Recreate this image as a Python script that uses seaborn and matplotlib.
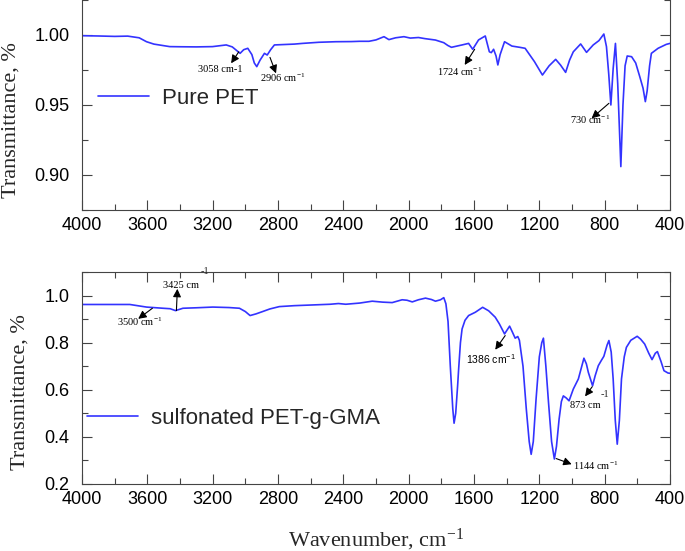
import matplotlib
matplotlib.use('Agg')
import matplotlib.pyplot as plt
import seaborn as sns
from matplotlib.ticker import MultipleLocator, FormatStrFormatter

# Pure PET spectrum (wavenumber, transmittance)
pet_wn = [4000, 3900, 3800, 3720, 3650, 3605, 3560, 3463, 3400, 3300, 3201, 3117,
          3080, 3032, 3010, 2985, 2960, 2945, 2930, 2910, 2883, 2866, 2845, 2822,
          2700, 2650, 2550, 2446, 2350, 2300, 2243, 2200, 2151, 2121, 2080, 2029,
          1990, 1940, 1900, 1836, 1785, 1760, 1738, 1700, 1673, 1633, 1608, 1572,
          1531, 1506, 1494, 1480, 1465, 1454, 1440, 1413, 1368, 1320, 1287, 1230,
          1181, 1140, 1100, 1070, 1039, 1015, 992, 947, 911, 870, 835, 805,
          789, 775, 762, 748, 734, 720, 701, 688, 675, 662, 635, 610,
          585, 565, 551, 540, 525, 514, 473, 423, 400]
pet_t = [0.9995, 0.9993, 0.9990, 0.9992, 0.9980, 0.9952, 0.9935, 0.9917, 0.9916, 0.9915, 0.9917, 0.9929,
         0.9915, 0.9869, 0.9895, 0.9905, 0.9860, 0.9800, 0.9774, 0.9820, 0.9869, 0.9857, 0.9895, 0.9929,
         0.9935, 0.9940, 0.9948, 0.9952, 0.9953, 0.9955, 0.9955, 0.9965, 0.9988, 0.9967, 0.9980, 0.9988,
         0.9978, 0.9982, 0.9974, 0.9964, 0.9945, 0.9925, 0.9912, 0.9922, 0.9929, 0.9940, 0.9898, 0.9965,
         0.9993, 0.9880, 0.9874, 0.9898, 0.9850, 0.9786, 0.9860, 0.9952, 0.9921, 0.9912, 0.9905, 0.9810,
         0.9714, 0.9780, 0.9826, 0.9785, 0.9733, 0.9820, 0.9880, 0.9936, 0.9876, 0.9929, 0.9960, 1.0007,
         0.9917, 0.9720, 0.9500, 0.9760, 0.9940, 0.9650, 0.9060, 0.9500, 0.9780, 0.9850, 0.9845, 0.9800,
         0.9702, 0.9620, 0.9524, 0.9600, 0.9780, 0.9869, 0.9905, 0.9933, 0.9940]

# sulfonated PET-g-GMA spectrum
spet_wn = [4000, 3850, 3707, 3605, 3504, 3460, 3428, 3400, 3382, 3300, 3199, 3100,
           3036, 3000, 2971, 2935, 2894, 2850, 2792, 2700, 2589, 2480, 2430, 2385,
           2300, 2223, 2160, 2101, 2040, 2010, 1978, 1940, 1897, 1860, 1836, 1805,
           1785, 1772, 1759, 1745, 1730, 1722, 1712, 1700, 1694, 1683, 1673, 1655,
           1633, 1592, 1547, 1510, 1470, 1445, 1413, 1382, 1365, 1348, 1332, 1322,
           1300, 1280, 1262, 1250, 1237, 1220, 1200, 1185, 1175, 1160, 1144, 1125,
           1108, 1095, 1079, 1065, 1053, 1035, 1018, 992, 961, 927, 912, 900,
           874, 858, 839, 820, 805, 785, 774, 760, 748, 735, 723, 710,
           697, 680, 667, 640, 601, 580, 555, 530, 510, 490, 477, 455,
           437, 412, 400]
spet_t = [0.962, 0.962, 0.962, 0.951, 0.946, 0.944, 0.936, 0.942, 0.946, 0.948, 0.951, 0.949,
          0.946, 0.932, 0.915, 0.922, 0.932, 0.943, 0.953, 0.957, 0.960, 0.963, 0.966, 0.963,
          0.968, 0.976, 0.972, 0.970, 0.982, 0.980, 0.973, 0.982, 0.989, 0.983, 0.976, 0.982,
          0.991, 0.965, 0.890, 0.700, 0.520, 0.458, 0.500, 0.620, 0.688, 0.800, 0.858, 0.895,
          0.915, 0.929, 0.950, 0.935, 0.908, 0.880, 0.837, 0.870, 0.845, 0.819, 0.826, 0.810,
          0.700, 0.520, 0.380, 0.326, 0.380, 0.560, 0.740, 0.800, 0.819, 0.700, 0.548, 0.380,
          0.306, 0.360, 0.475, 0.550, 0.574, 0.565, 0.553, 0.603, 0.646, 0.734, 0.710, 0.674,
          0.617, 0.660, 0.702, 0.725, 0.742, 0.790, 0.809, 0.760, 0.646, 0.470, 0.369, 0.470,
          0.646, 0.740, 0.780, 0.810, 0.827, 0.815, 0.794, 0.755, 0.728, 0.755, 0.762, 0.720,
          0.681, 0.671, 0.670]

line_color = '#3333ff'
frame_color = '#444444'

sns.set_theme(style='ticks')
plt.rcParams['font.family'] = ['Liberation Sans', 'DejaVu Sans']
serif = ['Liberation Serif', 'DejaVu Serif']

fig = plt.figure(figsize=(6.85, 5.51), dpi=100)
ax1 = fig.add_axes([0.1197, 0.6189, 0.8584, 0.3811])
ax2 = fig.add_axes([0.1197, 0.1216, 0.8584, 0.3848])

sns.lineplot(x=pet_wn, y=pet_t, ax=ax1, color=line_color, lw=1.2, label='Pure PET')
sns.lineplot(x=spet_wn, y=spet_t, ax=ax2, color=line_color, lw=1.2, label='sulfonated PET-g-GMA')


def style_axes(ax):
    ax.set_xlim(4000, 400)
    ax.xaxis.set_major_locator(MultipleLocator(400))
    ax.xaxis.set_minor_locator(MultipleLocator(200))
    ax.tick_params(which='both', direction='in', top=True, right=True,
                   colors=frame_color, labelcolor='black', labelsize=13, width=0.8)
    ax.tick_params(which='major', length=7)
    ax.tick_params(which='minor', length=4.5)
    ax.tick_params(axis='y', pad=9)
    ax.tick_params(axis='x', pad=5)
    for s in ax.spines.values():
        s.set_color(frame_color)
        s.set_linewidth(0.8)


style_axes(ax1)
style_axes(ax2)

ax1.set_ylim(0.875, 1.025)
ax1.yaxis.set_major_locator(MultipleLocator(0.05))
ax1.yaxis.set_minor_locator(MultipleLocator(0.025))
ax1.yaxis.set_major_formatter(FormatStrFormatter('%.2f'))
ax1.spines['top'].set_visible(False)
ax1.tick_params(which='both', top=False)

ax2.set_ylim(0.2, 1.1)
ax2.yaxis.set_major_locator(MultipleLocator(0.2))
ax2.yaxis.set_minor_locator(MultipleLocator(0.1))
ax2.yaxis.set_major_formatter(FormatStrFormatter('%.1f'))

for ax, lx, ly in [(ax1, -0.104, 0.4286), (ax2, -0.089, 0.4316)]:
    ax.set_ylabel('Transmittance, %', fontsize=16, family=serif)
    ax.yaxis.set_label_coords(lx, ly)
ax1.set_xlabel('')
ax2.set_xlabel('Wavenumber, cm$\\mathregular{^{-1}}$', fontsize=16, family=serif)
ax2.xaxis.set_label_coords(0.5, -0.20)

ax1.legend(loc='center left', bbox_to_anchor=(0.027, 0.533), frameon=False, fontsize=16,
           handlelength=2.3, handletextpad=0.6, borderpad=0, borderaxespad=0)
ax2.legend(loc='center left', bbox_to_anchor=(0.0085, 0.311), frameon=False, fontsize=16,
           handlelength=2.3, handletextpad=0.6, borderpad=0, borderaxespad=0)


def mark(ax, label, tip, tail, text_xy, family=serif, size=7.5):
    ax.annotate('', xy=tip, xytext=tail,
                arrowprops=dict(arrowstyle='-|>', color='black', lw=0.8,
                                mutation_scale=12, shrinkA=0, shrinkB=0))
    ax.text(text_xy[0], text_xy[1], label, ha='center', va='center',
            fontsize=size, family=family, color='black', clip_on=False)


sup = ' cm$\\mathregular{^{-1}}$'
mark(ax1, '3058 cm-1', (3087, 0.9798), (3040, 0.988), (3152, 0.9757))
mark(ax1, '2906' + sup, (2812, 0.9726), (2849, 0.984), (2774, 0.9693))
mark(ax1, '1724' + sup, (1657, 0.9786), (1596, 0.9898), (1687, 0.9734))
mark(ax1, '730' + sup, (880, 0.9405), (774, 0.9512), (888, 0.9393))

mark(ax2, '3425 cm', (3416, 1.0285), (3422, 0.936), (3392, 1.0426))
ax2.text(3250, 1.104, '-1', ha='center', va='center', fontsize=7.5, family=serif, clip_on=False)
mark(ax2, '3500' + sup, (3656, 0.901), (3569, 0.946), (3649, 0.888))
mark(ax2, '1386' + sup, (1470, 0.770), (1409, 0.830), (1498, 0.731),
     family=['Liberation Sans', 'DejaVu Sans'])
mark(ax2, '873 cm', (920, 0.572), (876, 0.613), (920, 0.532))
ax2.text(799, 0.582, '-1', ha='center', va='center', fontsize=7.5, family=serif)
mark(ax2, '1144' + sup, (1002, 0.284), (1097, 0.308), (855, 0.277))

fig.savefig('out.png', dpi=100)
